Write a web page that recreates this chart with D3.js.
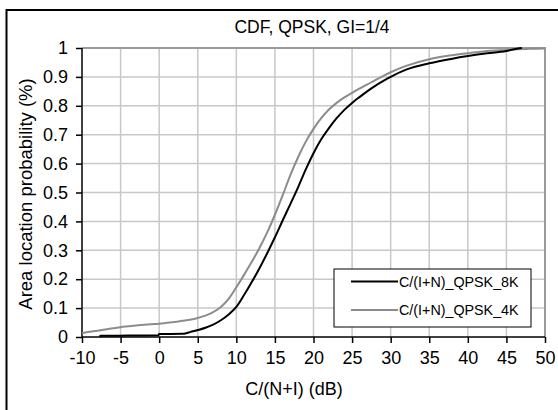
<!DOCTYPE html>
<html><head><meta charset="utf-8">
<script src="https://cdn.jsdelivr.net/npm/d3@7"></script>
<style>body{margin:0;background:#fff}svg{display:block;font-family:"Liberation Sans",Arial,sans-serif}</style>
</head><body><svg id="c" width="558" height="410"></svg>
<script>
const title = "CDF, QPSK, GI=1/4";
const xLabel = "C/(N+I) (dB)";
const yLabel = "Area location probability (%)";
const xTicks = [-10,-5,0,5,10,15,20,25,30,35,40,45,50];
const xTickLabels = ["-10","-5","0","5","10","15","20","25","30","35","40","45","50"];
const yTicks = [0,0.1,0.2,0.3,0.4,0.5,0.6,0.7,0.8,0.9,1];
const yTickLabels = ["0","0.1","0.2","0.3","0.4","0.5","0.6","0.7","0.8","0.9","1"];
const seriesNames = ["C/(I+N)_QPSK_8K","C/(I+N)_QPSK_4K"];
const x8K = [-7.7,-7.6,-4,-0.1,0,3,3.5,4,5,6,7,8,9,10,11,12,13,14,15,16,17,18,19,20,21,22,23,24,25,26,27,28,29,30,32,35,38,40,42,45,46.5,47];
const p8K = [0.001,0.004,0.005,0.006,0.01,0.011,0.013,0.017,0.024,0.032,0.043,0.058,0.078,0.104,0.145,0.19,0.238,0.29,0.345,0.403,0.46,0.518,0.58,0.636,0.684,0.723,0.757,0.786,0.81,0.831,0.851,0.869,0.885,0.9,0.925,0.947,0.963,0.972,0.98,0.99,0.998,1.0];
const x4K = [-10,-9,-8,-7,-6,-5,-4,-3,-2,-1,0,1,2,3,4,5,6,7,8,9,10,11,12,13,14,15,16,17,18,19,20,21,22,23,24,25,26,27,28,29,30,32,35,38,40,42,45,48,50];
const p4K = [0.013,0.018,0.022,0.026,0.030,0.034,0.037,0.040,0.042,0.044,0.046,0.049,0.052,0.056,0.060,0.066,0.074,0.086,0.104,0.132,0.172,0.215,0.26,0.308,0.362,0.423,0.49,0.56,0.622,0.676,0.72,0.757,0.787,0.81,0.829,0.845,0.86,0.874,0.889,0.903,0.916,0.938,0.961,0.975,0.982,0.988,0.993,0.997,0.998];
const colors = ["#000000","#8c8c8c"];

const svg = d3.select("#c");
const L=82,R=545,T=48,B=337;
const x = d3.scaleLinear().domain([-10,50]).range([L,R]);
const y = d3.scaleLinear().domain([0,1]).range([B,T]);

svg.append("rect").attr("x",6.5).attr("y",10).attr("width",600).attr("height",500)
  .attr("fill","none").attr("stroke","#000").attr("stroke-width",2);

const g = svg.append("g");
g.selectAll(".vx").data(xTicks.slice(1,-1)).join("line")
  .attr("x1",d=>x(d)).attr("x2",d=>x(d)).attr("y1",T).attr("y2",B)
  .attr("stroke","#c8c8c8").attr("stroke-width",1.5);
g.selectAll(".hy").data(yTicks.slice(1,-1)).join("line")
  .attr("x1",L).attr("x2",R).attr("y1",d=>y(d)).attr("y2",d=>y(d))
  .attr("stroke","#c8c8c8").attr("stroke-width",1.5);
svg.append("path").attr("d",`M${L},${T}H${R}V${B}`).attr("fill","none")
  .attr("stroke","#9a9a9a").attr("stroke-width",2);

const xAxis = d3.axisBottom(x).tickValues(xTicks).tickSize(6).tickPadding(8).tickFormat((d,i)=>xTickLabels[i]);
const gx = svg.append("g").attr("transform",`translate(0,${B})`).call(xAxis);
gx.select(".domain").attr("stroke","#000").attr("stroke-width",1.5).attr("d",`M${L},0H${R}`);
gx.selectAll(".tick line").attr("stroke","#000").attr("stroke-width",1.5);
gx.selectAll("text").attr("font-size",18).attr("fill","#000").attr("font-family","Liberation Sans, Arial, sans-serif");

const yAxis = d3.axisLeft(y).tickValues(yTicks).tickSize(6).tickPadding(8).tickFormat((d,i)=>yTickLabels[i]);
const gy = svg.append("g").attr("transform",`translate(${L},0)`).call(yAxis);
gy.select(".domain").attr("stroke","#000").attr("stroke-width",1.5).attr("d",`M0,${T}V${B}`);
gy.selectAll(".tick line").attr("stroke","#000").attr("stroke-width",1.5);
gy.selectAll("text").attr("font-size",18).attr("fill","#000").attr("font-family","Liberation Sans, Arial, sans-serif");

const line = d3.line().x(d=>x(d[0])).y(d=>y(d[1])).curve(d3.curveMonotoneX);
const s4 = x4K.map((v,i)=>[v,p4K[i]]);
const s8 = x8K.map((v,i)=>[v,p8K[i]]);
svg.append("path").datum(s4).attr("d",line).attr("fill","none").attr("stroke",colors[1]).attr("stroke-width",2);
svg.append("path").datum(s8).attr("d",line).attr("fill","none").attr("stroke",colors[0]).attr("stroke-width",2);

svg.append("text").attr("x",312).attr("y",33).attr("text-anchor","middle").attr("font-size",17.5).text(title);
svg.append("text").attr("x",294).attr("y",395).attr("text-anchor","middle").attr("font-size",18).text(xLabel);
svg.append("text").attr("transform","translate(32,194) rotate(-90)").attr("text-anchor","middle").attr("font-size",18.5).text(yLabel);

const lg = svg.append("g");
lg.append("rect").attr("x",334).attr("y",269).attr("width",197).attr("height",58)
  .attr("fill","#fff").attr("stroke","#000").attr("stroke-width",1);
seriesNames.forEach((n,i)=>{
  const yy = 281.5 + i*28.5;
  lg.append("line").attr("x1",351).attr("x2",398).attr("y1",yy).attr("y2",yy)
    .attr("stroke",colors[i]).attr("stroke-width",2);
  lg.append("text").attr("x",399).attr("y",yy+5).attr("font-size",14.3).text(n);
});
</script></body></html>
